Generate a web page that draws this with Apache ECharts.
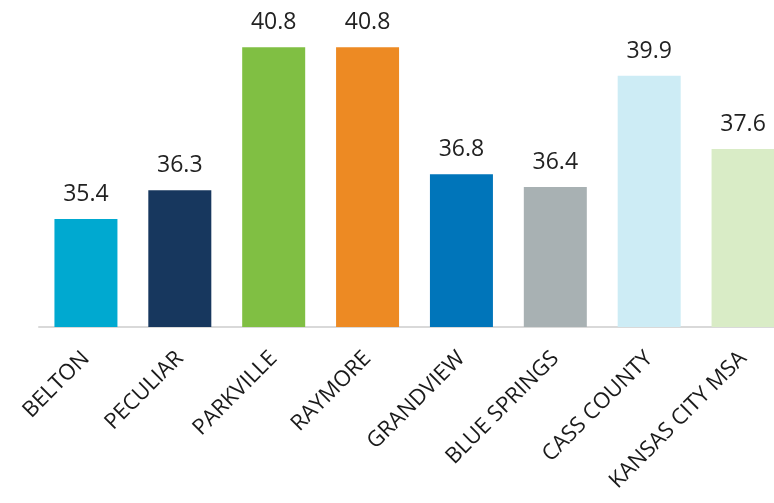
<!DOCTYPE html>
<html><head><meta charset="utf-8">
<script src="https://cdn.jsdelivr.net/npm/echarts@6/dist/echarts.min.js"></script>
<style>html,body{margin:0;padding:0;background:#fff}#c{width:774px;height:503px}</style>
</head><body><div id="c"></div>
<script>
const categories = ["BELTON","PECULIAR","PARKVILLE","RAYMORE","GRANDVIEW","BLUE SPRINGS","CASS COUNTY","KANSAS CITY MSA"];
const values = [35.4, 36.3, 40.8, 40.8, 36.8, 36.4, 39.9, 37.6];
const barColors = ["#00a9d0","#17375e","#80bf43","#ed8a23","#0075ba","#a8b1b3","#cdecf5","#d9ecc6"];

const chart = echarts.init(document.getElementById('c'), null, {renderer:'canvas'});
chart.setOption({
  animation:false,
  grid:{left:39, top:9, width:751, bottom:176, containLabel:false, outerBoundsMode:'none'},
  xAxis:{
    type:'category', data:categories,
    axisLine:{lineStyle:{color:'#d9d9d9', width:2}},
    axisTick:{show:false},
    axisLabel:{rotate:45, interval:0, margin:28, color:'#1a1a1a', fontSize:22, fontFamily:'Open Sans'}
  },
  yAxis:{type:'value', min:32, max:42, show:false, splitLine:{show:false}},
  series:[{
    type:'bar', barWidth:63,
    data: values.map((v,i)=>({value:v, itemStyle:{color:barColors[i]}})),
    label:{show:true, position:'top', distance:13, color:'#222', fontSize:23, fontFamily:'Open Sans',
      formatter:p=>p.value.toFixed(1)}
  }]
});
</script></body></html>
